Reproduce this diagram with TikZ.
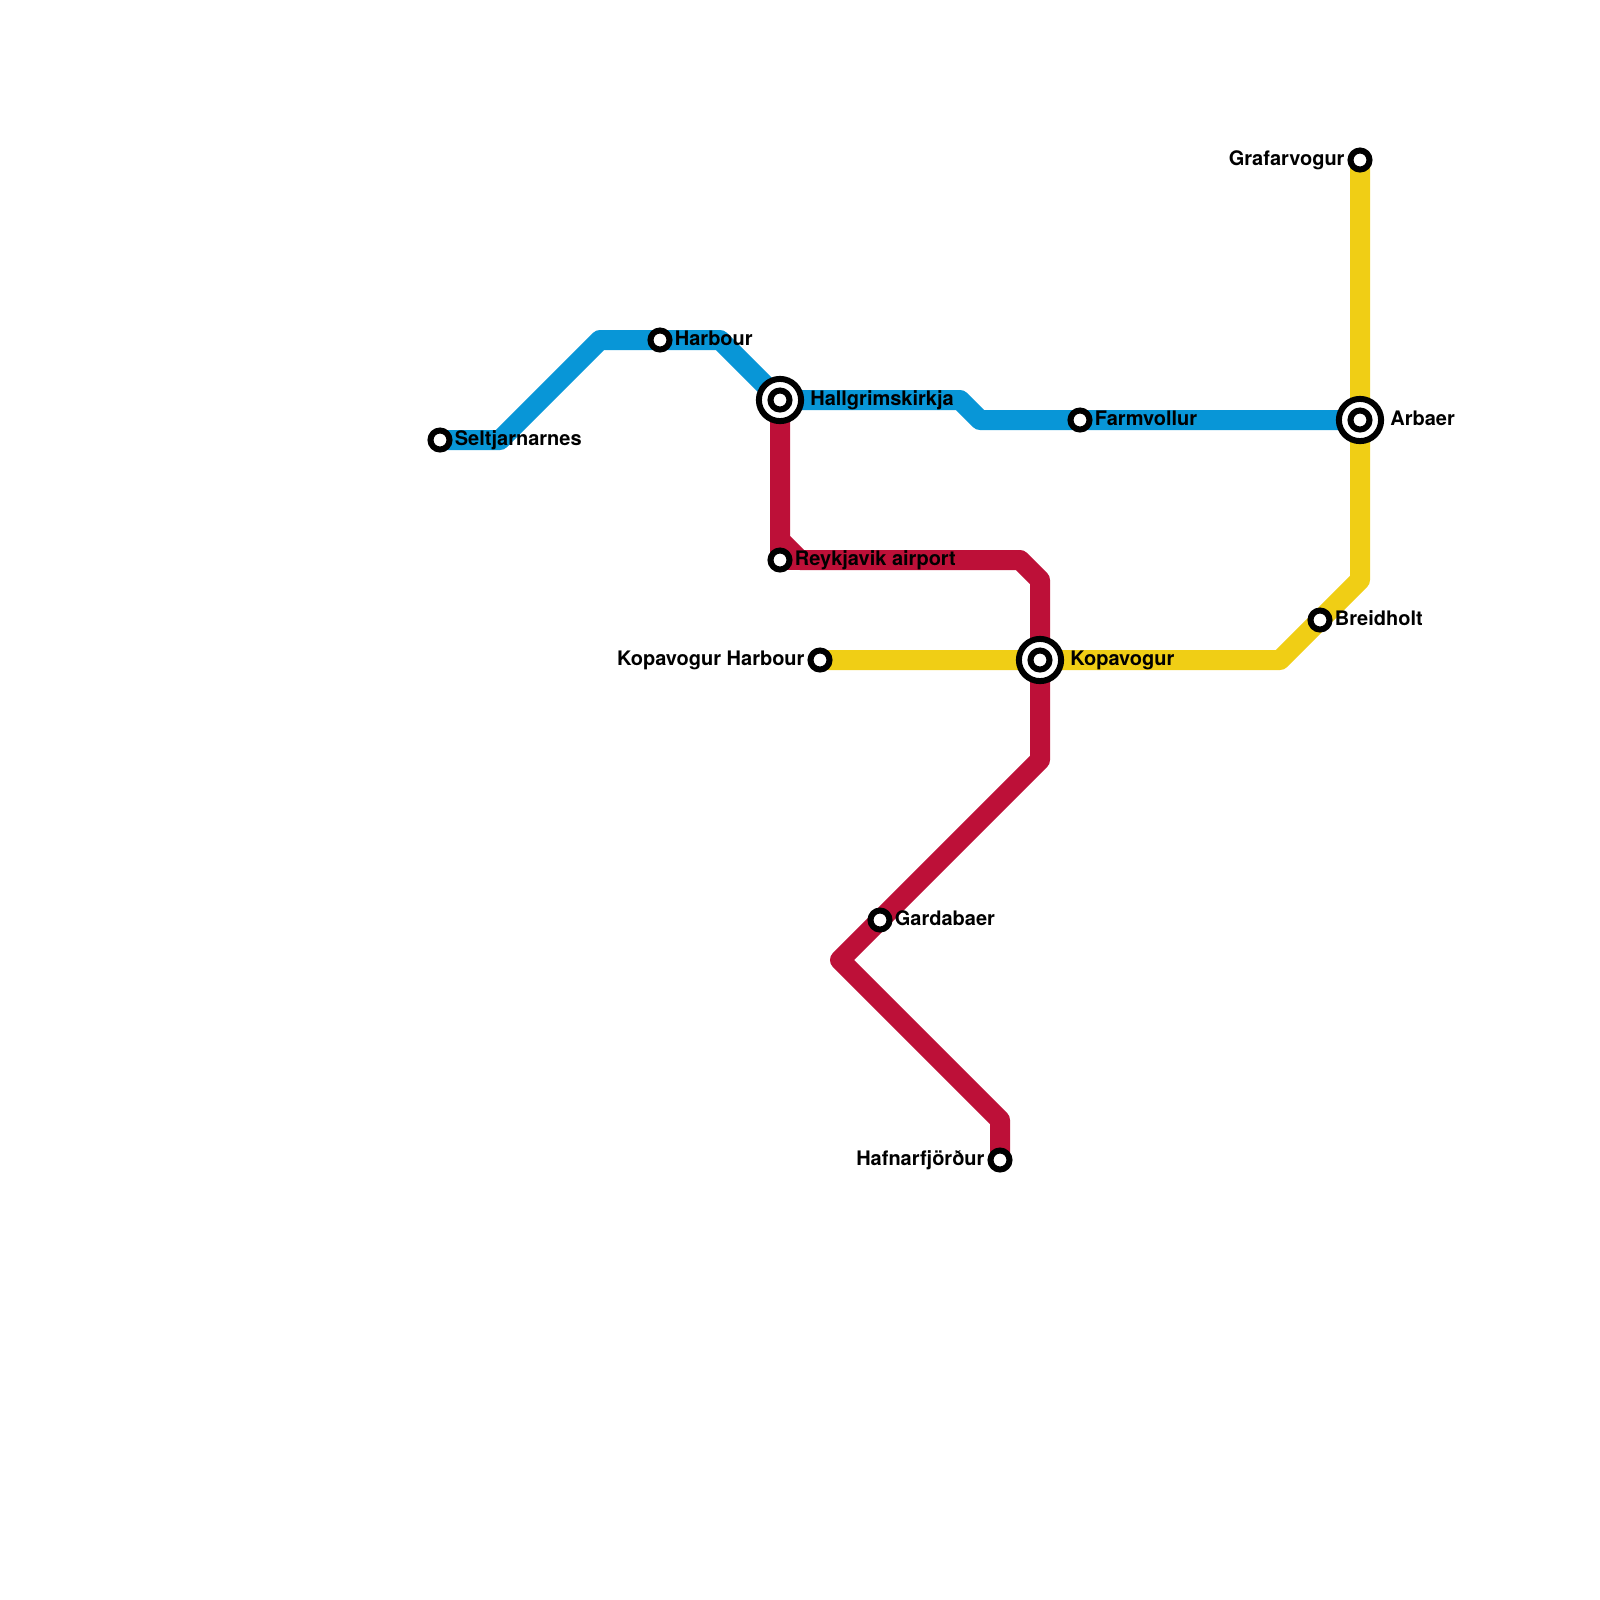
\documentclass[tikz,border=0pt]{standalone}
\usepackage{fontspec}
\setmainfont{TeX Gyre Heros}
\usepackage{xcolor}
\usetikzlibrary{positioning,backgrounds}
\definecolor{lineblue}{HTML}{0896D7}
\definecolor{linered}{HTML}{BD1038}
\definecolor{lineyellow}{HTML}{F0CE15}
\tikzset{
    stop/.style={circle,draw=black,fill=white,line width=0.6mm,inner sep=0pt,minimum size=1.9mm},
    hub/.style={circle,draw=black,fill=white,line width=0.6mm,inner sep=0pt,minimum size=4.22mm},
    stoplabel/.style={inner sep=0pt,text height=1.5mm,text depth=0.4mm,font=\bfseries\fontsize{5.69pt}{6.8pt}\selectfont},
    metroline/.style={line width=2mm,line join=round}
}
\begin{document}
\begin{tikzpicture}[x=0.28445pt,y=-0.28445pt]
    \useasboundingbox (0,0) rectangle (1600,1600);
    % bends
    \coordinate (b1) at (500,440);
    \coordinate (b2) at (600,340);
    \coordinate (b3) at (720,340);
    \coordinate (b4) at (960,400);
    \coordinate (b5) at (980,420);
    \coordinate (r1) at (780,540);
    \coordinate (r2) at (800,560);
    \coordinate (r3) at (1020,560);
    \coordinate (r4) at (1040,580);
    \coordinate (r5) at (1040,760);
    \coordinate (r6) at (840,960);
    \coordinate (r7) at (1000,1120);
    \coordinate (y1) at (1360,580);
    \coordinate (y2) at (1280,660);
    % stations
    \node[stop] (seltjarnarnes) at (440,440) {};
    \node[stop] (harbour) at (660,340) {};
    \node[hub] (hallgrim) at (780,400) {};
    \node[stop] (hallgrimin) at (780,400) {};
    \node[stop] (farmvollur) at (1080,420) {};
    \node[hub] (arbaer) at (1360,420) {};
    \node[stop] (arbaerin) at (1360,420) {};
    \node[stop] (grafarvogur) at (1360,160) {};
    \node[stop] (breidholt) at (1320,620) {};
    \node[hub] (kopavogur) at (1040,660) {};
    \node[stop] (kopavogurin) at (1040,660) {};
    \node[stop] (kopharbour) at (820,660) {};
    \node[stop] (reykjavik) at (780,560) {};
    \node[stop] (gardabaer) at (880,920) {};
    \node[stop] (hafnar) at (1000,1160) {};
    % labels
    \node[stoplabel,right=0.17mm of seltjarnarnes] (lselt) {Seltjarnarnes};
    \node[stoplabel,right=0.17mm of harbour] (lharbour) {Harbour};
    \node[stoplabel,right=0.55mm of hallgrim] (lhallgrim) {Hallgrimskirkja};
    \node[stoplabel,right=0.17mm of farmvollur] (lfarm) {Farmvollur};
    \node[stoplabel,right=0.55mm of arbaer] (larbaer) {Arbaer};
    \node[stoplabel,left=0.23mm of grafarvogur] (lgraf) {Grafarvogur};
    \node[stoplabel,right=0.17mm of breidholt] (lbreid) {Breidholt};
    \node[stoplabel,right=0.55mm of kopavogur] (lkop) {Kopavogur};
    \node[stoplabel,left=0.23mm of kopharbour] (lkoph) {Kopavogur Harbour};
    \node[stoplabel,right=0.17mm of reykjavik] (lreyk) {Reykjavik airport};
    \node[stoplabel,right=0.17mm of gardabaer] (lgarda) {Gardabaer};
    \node[stoplabel,left=0.23mm of hafnar] (lhafn) {Hafnarfjörður};
    \begin{scope}[on background layer]
        \draw[metroline,lineblue] (seltjarnarnes.center) -- (b1) -- (b2) -- (b3) -- (hallgrim.center) -- (b4) -- (b5) -- (arbaer.center);
        \draw[metroline,linered] (hallgrim.center) -- (reykjavik.center) -- (r2);
        \draw[metroline,linered] (hallgrim.center) -- (r1) -- (r2) -- (r3) -- (r4) -- (r5) -- (r6) -- (r7) -- (hafnar.center);
        \draw[metroline,lineyellow] (grafarvogur.center) -- (y1) -- (y2) -- (kopharbour.center);
    \end{scope}
\end{tikzpicture}
\end{document}
